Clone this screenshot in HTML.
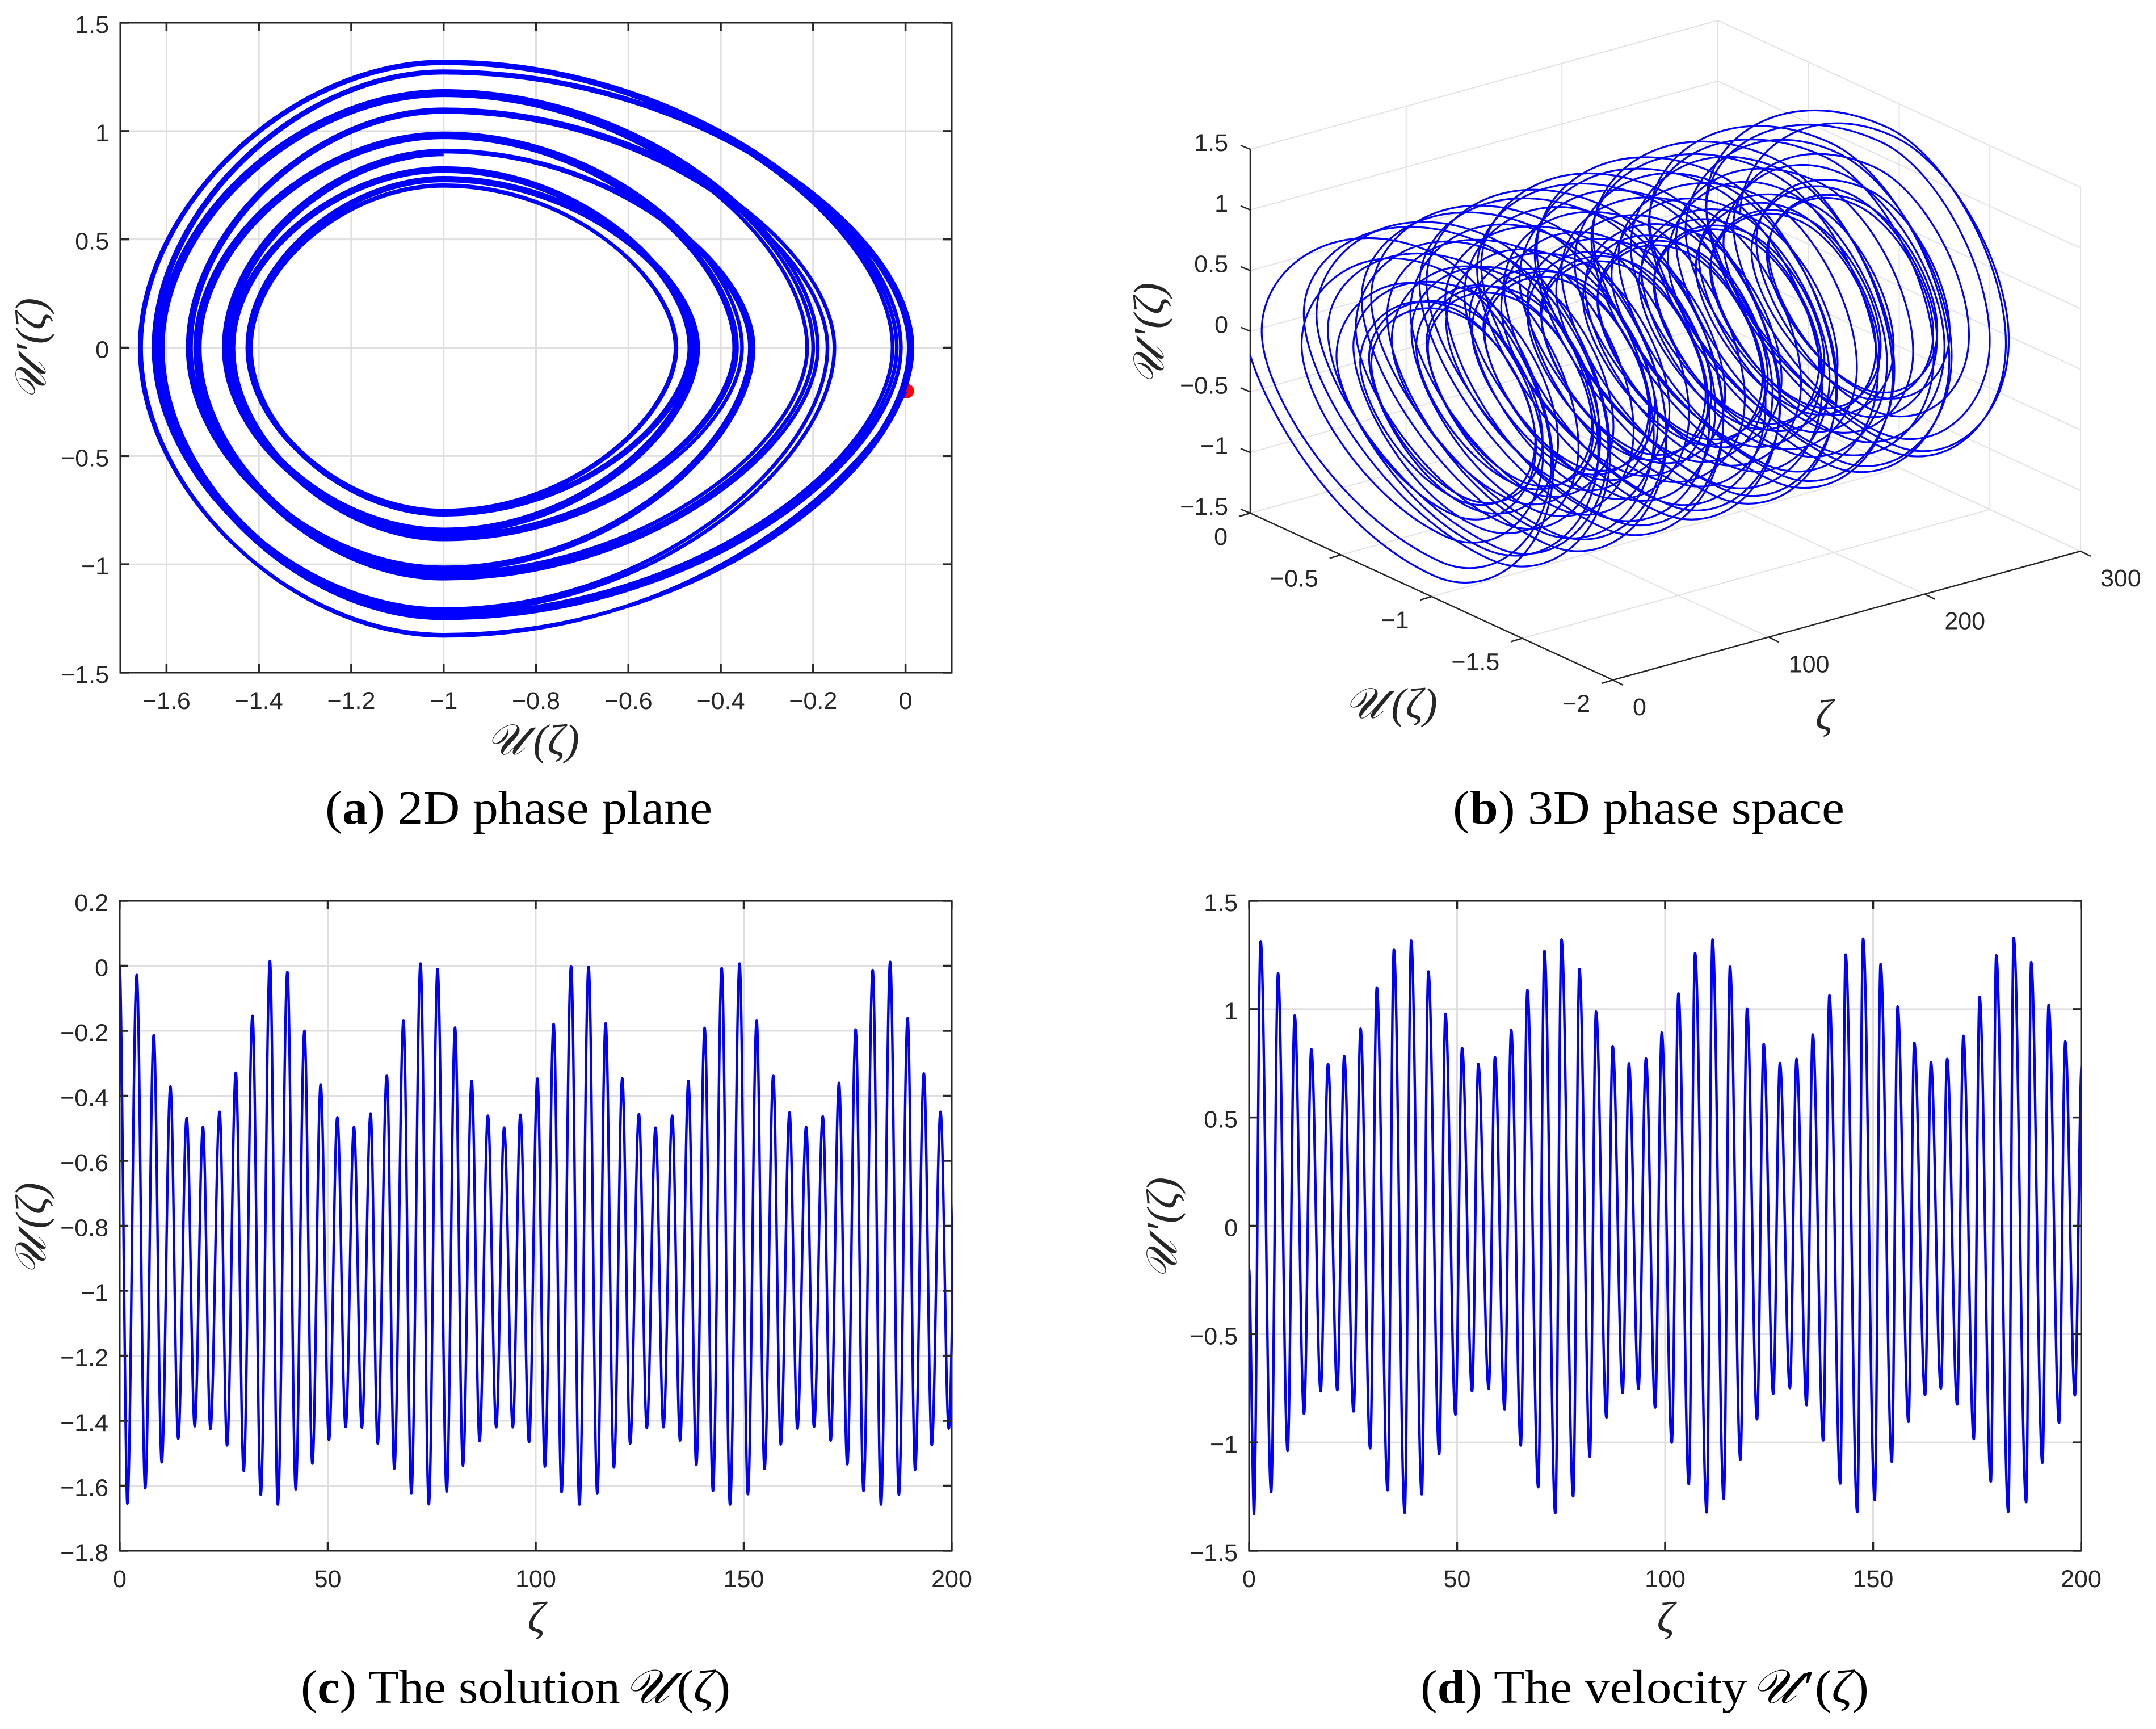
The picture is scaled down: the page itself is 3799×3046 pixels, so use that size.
<!DOCTYPE html>
<html lang="en">
<head>
<meta charset="utf-8">
<title>Phase plane, phase space, solution and velocity</title>
<style>
html,body{margin:0;padding:0;background:#fff;}
svg{display:block;}
.tick{font-family:"Liberation Sans",sans-serif;font-size:43px;fill:#262626;}
.axis{font-family:"Liberation Serif","DejaVu Serif",serif;font-style:italic;font-size:76px;fill:#262626;}
.cap{font-family:"Liberation Serif","DejaVu Serif",serif;font-size:84px;fill:#000;}
.m{font-style:italic;}
.b{font-weight:bold;}
</style>
</head>
<body>
<svg id="figure" xmlns="http://www.w3.org/2000/svg" width="3799" height="3046" viewBox="0 0 3799 3046">
  <rect x="0" y="0" width="3799" height="3046" fill="#fff"/>
  <defs>
    <clipPath id="clip-c"><rect x="211" y="1587" width="1468" height="1145"/></clipPath>
    <clipPath id="clip-d"><rect x="2201" y="1587" width="1468" height="1145"/></clipPath>
    <clipPath id="clip-a"><rect x="212" y="40" width="1465" height="1145"/></clipPath>
  </defs>

  <g id="panel-a">
    <text class="axis" x="939" y="1329" text-anchor="middle">𝒰<tspan dx="14">(ζ)</tspan></text>
    <text class="axis" transform="translate(80,615) rotate(-90)" text-anchor="middle">𝒰<tspan dx="14">′(ζ)</tspan></text>
    <text class="cap" x="573" y="1451" textLength="682" lengthAdjust="spacingAndGlyphs">(<tspan class="b">a</tspan>) 2D phase plane</text>
  </g>

  <g id="panel-b">
    <text class="axis" x="2451" y="1265" text-anchor="middle">𝒰<tspan dx="14">(ζ)</tspan></text>
    <text class="axis" x="3214" y="1285" text-anchor="middle">ζ</text>
    <text class="axis" transform="translate(2050,588) rotate(-90)" text-anchor="middle">𝒰<tspan dx="14">′(ζ)</tspan></text>
    <text class="cap" x="2560" y="1451" textLength="690" lengthAdjust="spacingAndGlyphs">(<tspan class="b">b</tspan>) 3D phase space</text>
  </g>

  <g id="panel-c">
    <text class="axis" x="945" y="2875" text-anchor="middle">ζ</text>
    <text class="axis" transform="translate(80,2165) rotate(-90)" text-anchor="middle">𝒰<tspan dx="14">(ζ)</tspan></text>
    <text class="cap" x="530" y="3000" textLength="757" lengthAdjust="spacingAndGlyphs">(<tspan class="b">c</tspan>) The solution <tspan class="m" dx="-14">𝒰</tspan><tspan dx="12">(</tspan><tspan class="m">ζ</tspan>)</text>
  </g>

  <g id="panel-d">
    <text class="axis" x="2935" y="2875" text-anchor="middle">ζ</text>
    <text class="axis" transform="translate(2073,2164) rotate(-90)" text-anchor="middle">𝒰<tspan dx="14">′(ζ)</tspan></text>
    <text class="cap" x="2503" y="3000" textLength="790" lengthAdjust="spacingAndGlyphs">(<tspan class="b">d</tspan>) The velocity <tspan class="m" dx="-14">𝒰</tspan><tspan dx="12">′(</tspan><tspan class="m">ζ</tspan>)</text>
  </g>
</svg>

<script>
// Extrema of the solution U(zeta); beyond zeta = 200 estimated from panel (b).
const uPeakZeta = [0,4.09,8.17,12.17,16.09,20,24,27.9,31.9,36.1,40.3,44.4,48.3,52.3,56.3,60.3,64.2,68.2,72.3,76.4,80.6,84.6,88.5,92.4,96.3,100.4,104.3,108.5,112.7,116.8,120.8,124.8,128.8,132.8,136.7,140.6,144.7,149,153.1,157.1,161,165,169,172.9,176.9,181,185.2,189.4,193.3,197.3,201.2,205.2,209.1,213,217.1,221.3,225.5,229.5,233.5,237.4,241.4,245.3,249.3,253.4,257.6,261.8,265.8,269.8,273.7,277.7,281.6,285.6,289.7,293.9,298.1];
const uPeakValue = [0,-0.028,-0.213,-0.371,-0.468,-0.496,-0.449,-0.329,-0.154,0.015,-0.019,-0.2,-0.365,-0.466,-0.496,-0.454,-0.337,-0.169,0.007,-0.01,-0.19,-0.354,-0.461,-0.498,-0.458,-0.347,-0.179,-0.001,-0.003,-0.177,-0.346,-0.456,-0.498,-0.461,-0.354,-0.191,-0.007,0.007,-0.169,-0.337,-0.451,-0.496,-0.463,-0.36,-0.196,-0.013,0.012,-0.161,-0.331,-0.449,-0.496,-0.465,-0.36,-0.2,-0.015,0.012,-0.16,-0.33,-0.45,-0.496,-0.465,-0.365,-0.205,-0.02,0.012,-0.15,-0.325,-0.445,-0.496,-0.47,-0.37,-0.21,-0.025,0.012,-0.14];
const uTroughZeta = [1.82,6.12,10.1,14.06,18.03,21.8,25.8,29.8,33.9,38,42.3,46.3,50.3,54.3,58.2,62,66,70.1,74.3,78.6,82.5,86.5,90.5,94.5,98.4,102.2,106.2,110.5,114.8,118.8,122.7,126.7,130.7,134.7,138.6,142.6,146.7,151,155,158.9,162.9,166.9,170.9,174.9,178.8,183,187.3,191.2,195.2,199.3,203.3,207.2,211.2,215.1,219.3,223.6,227.5,231.5,235.5,239.5,243.5,247.5,251.4,255.6,259.9,263.9,267.9,271.9,275.9,279.8,283.8,287.7,291.9,296.2];
const uTroughValue = [-1.655,-1.608,-1.528,-1.455,-1.417,-1.425,-1.476,-1.554,-1.628,-1.658,-1.611,-1.532,-1.459,-1.419,-1.421,-1.47,-1.547,-1.623,-1.657,-1.618,-1.538,-1.462,-1.42,-1.42,-1.466,-1.541,-1.62,-1.658,-1.623,-1.544,-1.47,-1.422,-1.42,-1.461,-1.536,-1.616,-1.658,-1.626,-1.548,-1.473,-1.424,-1.419,-1.461,-1.534,-1.616,-1.658,-1.627,-1.551,-1.475,-1.424,-1.419,-1.458,-1.53,-1.612,-1.658,-1.63,-1.556,-1.48,-1.426,-1.418,-1.455,-1.528,-1.608,-1.658,-1.634,-1.56,-1.484,-1.429,-1.417,-1.452,-1.524,-1.605,-1.658,-1.637];

// Extrema of the velocity U'(zeta).
const vStartValue = -0.2;
const vPeakZeta = [2.78,6.96,10.96,14.96,18.96,22.87,26.8,30.7,34.8,38.96,43.1,47.2,51.2,55.1,59.1,63,66.9,71,75.1,79.4,83.4,87.4,91.3,95.4,99.2,103.2,107.2,111.4,115.6,119.7,123.7,127.6,131.6,135.5,139.5,143.4,147.6,151.8,155.9,159.9,163.9,167.8,171.7,175.6,179.6,183.8,188,192.2,196.2,200.2,204.1,208,212,216,220.1,224.3,228.5,232.5,236.5,240.4,244.3,248.3,252.3,256.4,260.6,264.8,268.8,272.8,276.7,280.6,284.6,288.6,292.7,296.9];
const vPeakValue = [1.313,1.165,0.971,0.815,0.747,0.784,0.91,1.1,1.276,1.316,1.174,0.979,0.821,0.747,0.778,0.905,1.088,1.269,1.321,1.185,0.989,0.829,0.75,0.772,0.892,1.072,1.258,1.321,1.198,1.003,0.839,0.751,0.77,0.883,1.064,1.252,1.325,1.208,1.012,0.845,0.754,0.77,0.877,1.056,1.248,1.329,1.217,1.02,0.851,0.757,0.768,0.87,1.045,1.24,1.33,1.225,1.03,0.858,0.758,0.766,0.865,1.037,1.232,1.33,1.235,1.04,0.865,0.76,0.764,0.858,1.03,1.225,1.33,1.24];
const vTroughZeta = [1.16,5.3,9.26,13.2,17.2,21.2,25.1,29.1,33.3,37.4,41.5,45.7,49.6,53.6,57.6,61.4,65.3,69.5,73.6,77.9,81.9,85.9,89.8,93.6,97.6,101.6,105.7,110,114.1,118.1,122.1,126,130,134,138,142.1,146.2,150.4,154.5,158.5,162.5,166.3,170.2,174.2,178.3,182.5,186.8,190.7,194.7,198.5,202.5,206.4,210.4,214.4,218.6,222.9,226.9,230.9,234.9,238.8,242.7,246.7,250.7,254.9,259.2,263.2,267.2,271.2,275.1,279,283,287,291.2,295.5,299.5];
const vTroughValue = [-1.33,-1.229,-1.039,-0.868,-0.764,-0.759,-0.857,-1.027,-1.221,-1.325,-1.24,-1.054,-0.872,-0.764,-0.752,-0.847,-1.014,-1.207,-1.327,-1.249,-1.066,-0.885,-0.771,-0.752,-0.839,-1.001,-1.193,-1.323,-1.261,-1.079,-0.893,-0.776,-0.749,-0.828,-0.991,-1.19,-1.322,-1.266,-1.089,-0.905,-0.782,-0.751,-0.825,-0.984,-1.18,-1.32,-1.275,-1.094,-0.91,-0.783,-0.75,-0.82,-0.978,-1.17,-1.318,-1.28,-1.1,-0.915,-0.79,-0.75,-0.815,-0.97,-1.165,-1.316,-1.285,-1.108,-0.92,-0.795,-0.75,-0.81,-0.965,-1.16,-1.315,-1.29,-1.115];

// Value of U at which the velocity reaches its extrema.
const vExtremumU = [-1];
// Marked initial point in panel (a).
const startPointU = [0];
const startPointV = [-0.2];
// Panel (a) shows the trajectory only up to this zeta.
const phaseMaxZeta = [100];

// Tick values.
const phaseUTicks = [-1.6,-1.4,-1.2,-1,-0.8,-0.6,-0.4,-0.2,0];
const phaseVTicks = [-1.5,-1,-0.5,0,0.5,1,1.5];
const solutionZetaTicks = [0,50,100,150,200];
const solutionUTicks = [-1.8,-1.6,-1.4,-1.2,-1,-0.8,-0.6,-0.4,-0.2,0,0.2];
const velocityZetaTicks = [0,50,100,150,200];
const velocityVTicks = [-1.5,-1,-0.5,0,0.5,1,1.5];
const space3dUTicks = [0,-0.5,-1,-1.5,-2];
const space3dZetaTicks = [0,100,200,300];
const space3dVTicks = [-1.5,-1,-0.5,0,0.5,1,1.5];

const SVGNS = 'http://www.w3.org/2000/svg';
const INK = '#262626';
const GRID = '#dfdfdf';
const BLUE = '#0000ff';

function mk(parent, tag, attrs) {
  const el = document.createElementNS(SVGNS, tag);
  for (const k in attrs) el.setAttribute(k, attrs[k]);
  parent.appendChild(el);
  return el;
}
function fmt(t) { return String(t).replace('-', '\u2212'); }
function linear(d0, d1, r0, r1) { return function (v) { return r0 + (v - d0) / (d1 - d0) * (r1 - r0); }; }

// ---- shared 2D axes box ----
function axes2d(group, box, xS, yS, xTicks, yTicks) {
  for (const t of xTicks) {
    const g = mk(group, 'line', {x1: xS(t), x2: xS(t), y1: box.t, y2: box.b, stroke: GRID, 'stroke-width': 3});
    
    
  }
  for (const t of yTicks) {
    const g = mk(group, 'line', {x1: box.l, x2: box.r, y1: yS(t), y2: yS(t), stroke: GRID, 'stroke-width': 3});
    
    
  }
}
function frame2d(group, box, xS, yS, xTicks, yTicks) {
  const f = mk(group, 'rect', {x: box.l, y: box.t, width: box.r - box.l, height: box.b - box.t, fill: 'none', stroke: INK, 'stroke-width': 3});
  
  
  const TL = 15;
  for (const t of xTicks) {
    const x = xS(t);
    const a = mk(group, 'path', {d: 'M' + x + ' ' + box.b + 'v' + (-TL) + 'M' + x + ' ' + box.t + 'v' + TL, stroke: INK, 'stroke-width': 3.5, fill: 'none'});
    
    
    const l = mk(group, 'text', {x: x, y: box.b + 64, 'text-anchor': 'middle', class: 'tick'});
    l.textContent = fmt(t);
    
    
  }
  for (const t of yTicks) {
    const y = yS(t);
    const a = mk(group, 'path', {d: 'M' + box.l + ' ' + y + 'h' + TL + 'M' + box.r + ' ' + y + 'h' + (-TL), stroke: INK, 'stroke-width': 3.5, fill: 'none'});
    
    
    const l = mk(group, 'text', {x: box.l - 20, y: y + 18, 'text-anchor': 'end', class: 'tick'});
    l.textContent = fmt(t);
    
    
  }
}

// ---- time series: smooth curve through the extrema ----
function seriesPath(xS, yS, zetas, values) {
  let d = 'M' + xS(zetas[0]).toFixed(2) + ' ' + yS(values[0]).toFixed(2);
  for (let i = 1; i < zetas.length; i++) {
    const dz = zetas[i] - zetas[i - 1], h = (i === 1 ? 0.25 : 0.364) * dz;
    d += 'C' + xS(zetas[i - 1] + h).toFixed(2) + ' ' + yS(values[i - 1]).toFixed(2) +
         ' ' + xS(zetas[i] - h).toFixed(2) + ' ' + yS(values[i]).toFixed(2) +
         ' ' + xS(zetas[i]).toFixed(2) + ' ' + yS(values[i]).toFixed(2);
  }
  return d;
}
function mergedU() {
  const z = [], v = [];
  const n = Math.min(uPeakZeta.length, uTroughZeta.length);
  for (let i = 0; i < n; i++) {
    z.push(uPeakZeta[i]); v.push(uPeakValue[i]);
    z.push(uTroughZeta[i]); v.push(uTroughValue[i]);
  }
  return {z: z, v: v};
}
function mergedV() {
  const z = [0], v = [vStartValue];
  const n = Math.min(vPeakZeta.length, vTroughZeta.length);
  for (let i = 0; i < n; i++) {
    z.push(vTroughZeta[i]); v.push(vTroughValue[i]);
    z.push(vPeakZeta[i]); v.push(vPeakValue[i]);
  }
  return {z: z, v: v};
}

// ---- phase trajectory: Bezier segments in (u, v, zeta) through the extrema ----
function phaseSegments() {
  const c = vExtremumU[0];
  const kTipV = 0.42, kTipU = 0.55, kLeft = 0.5;
  const segs = [];
  const n = Math.min(uPeakZeta.length - 1, uTroughZeta.length, vPeakZeta.length, vTroughZeta.length);
  let cur = {u: uPeakValue[0], v: vStartValue, z: uPeakZeta[0]};
  function add(a, c1u, c1v, c2u, c2v, b) {
    const dz = b.z - a.z;
    segs.push([[a.u, a.v, a.z], [c1u, c1v, a.z + dz / 3], [c2u, c2v, a.z + 2 * dz / 3], [b.u, b.v, b.z]]);
  }
  for (let i = 0; i < n; i++) {
    const vt = {u: c, v: vTroughValue[i], z: vTroughZeta[i]};
    const ut = {u: uTroughValue[i], v: 0, z: uTroughZeta[i]};
    const vp = {u: c, v: vPeakValue[i], z: vPeakZeta[i]};
    const up = {u: uPeakValue[i + 1], v: 0, z: uPeakZeta[i + 1]};
    if (i === 0) {
      // the trajectory starts part-way along the tip, not at V = 0
      add(cur, cur.u + 0.1 * (c - cur.u), cur.v + 0.39 * (vt.v - cur.v), c + 0.525 * (cur.u - c), vt.v, vt);
    } else {
      add(cur, cur.u, kTipV * vt.v, c + kTipU * (cur.u - c), vt.v, vt);
    }
    add(vt, c + kLeft * (ut.u - c), vt.v, ut.u, kLeft * vt.v, ut);
    add(ut, ut.u, kLeft * vp.v, c + kLeft * (ut.u - c), vp.v, vp);
    add(vp, c + kTipU * (up.u - c), vp.v, up.u, kTipV * vp.v, up);
    cur = up;
  }
  return segs;
}
function segmentsPath(segs, project) {
  let d = '';
  segs.forEach(function (s, i) {
    if (i === 0) { const p = project(s[0]); d += 'M' + p[0].toFixed(2) + ' ' + p[1].toFixed(2); }
    const a = project(s[1]), b = project(s[2]), e = project(s[3]);
    d += 'C' + a[0].toFixed(2) + ' ' + a[1].toFixed(2) + ' ' + b[0].toFixed(2) + ' ' + b[1].toFixed(2) + ' ' + e[0].toFixed(2) + ' ' + e[1].toFixed(2);
  });
  return d;
}

const allSegments = phaseSegments();

// ---- panel (a) ----
(function () {
  const group = document.getElementById('panel-a');
  const box = {l: 212, r: 1677, t: 40, b: 1185};
  const xS = linear(-1.7, 0.1, box.l, box.r), yS = linear(-1.5, 1.5, box.b, box.t);
  axes2d(group, box, xS, yS, phaseUTicks, phaseVTicks);
  const dot = mk(group, 'circle', {cx: xS(startPointU[0]) + 2, cy: yS(startPointV[0]), r: 13, fill: '#ff0000'});
  
  
  const segs = allSegments.filter(function (s) { return s[3][2] <= phaseMaxZeta[0]; });
  const p = mk(group, 'path', {
    d: segmentsPath(segs, function (q) { return [xS(q[0]), yS(q[1])]; }),
    fill: 'none', stroke: BLUE, 'stroke-width': 6.5, 'stroke-linejoin': 'round', 'clip-path': 'url(#clip-a)'
  });
  
  
  frame2d(group, box, xS, yS, phaseUTicks, phaseVTicks);
})();

// ---- panel (c) ----
(function () {
  const group = document.getElementById('panel-c');
  const box = {l: 211, r: 1677, t: 1587, b: 2732};
  const xS = linear(0, 200, box.l, box.r), yS = linear(-1.8, 0.2, box.b, box.t);
  axes2d(group, box, xS, yS, solutionZetaTicks, solutionUTicks);
  const m = mergedU();
  const p = mk(group, 'path', {d: seriesPath(xS, yS, m.z, m.v), fill: 'none', stroke: BLUE, 'stroke-width': 4.4, 'clip-path': 'url(#clip-c)'});
  
  
  frame2d(group, box, xS, yS, solutionZetaTicks, solutionUTicks);
})();

// ---- panel (d) ----
(function () {
  const group = document.getElementById('panel-d');
  const box = {l: 2201, r: 3667, t: 1587, b: 2732};
  const xS = linear(0, 200, box.l, box.r), yS = linear(-1.5, 1.5, box.b, box.t);
  axes2d(group, box, xS, yS, velocityZetaTicks, velocityVTicks);
  const m = mergedV();
  const p = mk(group, 'path', {d: seriesPath(xS, yS, m.z, m.v), fill: 'none', stroke: BLUE, 'stroke-width': 4.4, 'clip-path': 'url(#clip-d)'});
  
  
  frame2d(group, box, xS, yS, velocityZetaTicks, velocityVTicks);
})();

// ---- panel (b) ----
(function () {
  const group = document.getElementById('panel-b');
  const uA = linear(0, -2, 0, 1), zA = linear(0, 300, 0, 1), vA = linear(-1.5, 1.5, 0, 1);
  function P(u, zeta, v) {
    const a = uA(u), b = zA(zeta), c = vA(v);
    return [2203 + a * 639 + b * 824, 904 + a * 294 - b * 227 - c * 641];
  }
  function seg(a, b, stroke, w, name) {
    const l = mk(group, 'line', {x1: a[0], y1: a[1], x2: b[0], y2: b[1], stroke: stroke, 'stroke-width': w});
    
    
    return l;
  }
  const G3 = '#e2e2e2';
  for (const v of space3dVTicks) {
    seg(P(0, 0, v), P(0, 300, v), G3, 2, 'left-wall-gridline');
    seg(P(0, 300, v), P(-2, 300, v), G3, 2, 'right-wall-gridline');
  }
  for (const z of space3dZetaTicks) {
    seg(P(0, z, -1.5), P(0, z, 1.5), G3, 2, 'left-wall-gridline');
    seg(P(0, z, -1.5), P(-2, z, -1.5), G3, 2, 'floor-gridline');
  }
  for (const u of space3dUTicks) {
    seg(P(u, 300, -1.5), P(u, 300, 1.5), G3, 2, 'right-wall-gridline');
    seg(P(u, 0, -1.5), P(u, 300, -1.5), G3, 2, 'floor-gridline');
  }
  seg(P(0, 0, -1.5), P(0, 0, 1.5), INK, 2.5, 'z-axis-line');
  seg(P(0, 0, -1.5), P(-2, 0, -1.5), INK, 2.5, 'u-axis-line');
  seg(P(-2, 0, -1.5), P(-2, 300, -1.5), INK, 2.5, 'zeta-axis-line');

  const curve = mk(group, 'path', {
    d: segmentsPath(allSegments, function (q) { return P(q[0], q[2], q[1]); }),
    fill: 'none', stroke: BLUE, 'stroke-width': 3.2, 'stroke-linejoin': 'round'
  });
  
  

  for (const v of space3dVTicks) {
    const p = P(0, 0, v);
    seg(p, [p[0] - 17, p[1] - 7], INK, 2.5, 'z-tick-mark');
    const l = mk(group, 'text', {x: 2164, y: p[1] + 3, 'text-anchor': 'end', class: 'tick'});
    l.textContent = fmt(v);
    
    
  }
  for (const u of space3dUTicks) {
    const p = P(u, 0, -1.5);
    seg(p, [p[0] - 20, p[1] + 6], INK, 2.5, 'u-tick-mark');
    const l = mk(group, 'text', {x: p[0] - 40, y: p[1] + 56, 'text-anchor': 'end', class: 'tick'});
    l.textContent = fmt(u);
    
    
  }
  for (const z of space3dZetaTicks) {
    const p = P(-2, z, -1.5);
    seg(p, [p[0] + 18, p[1] + 9], INK, 2.5, 'zeta-tick-mark');
    const l = mk(group, 'text', {x: p[0] + 35, y: p[1] + 62, 'text-anchor': 'start', class: 'tick'});
    l.textContent = fmt(z);
    
    
  }
})();
</script>
</body>
</html>
